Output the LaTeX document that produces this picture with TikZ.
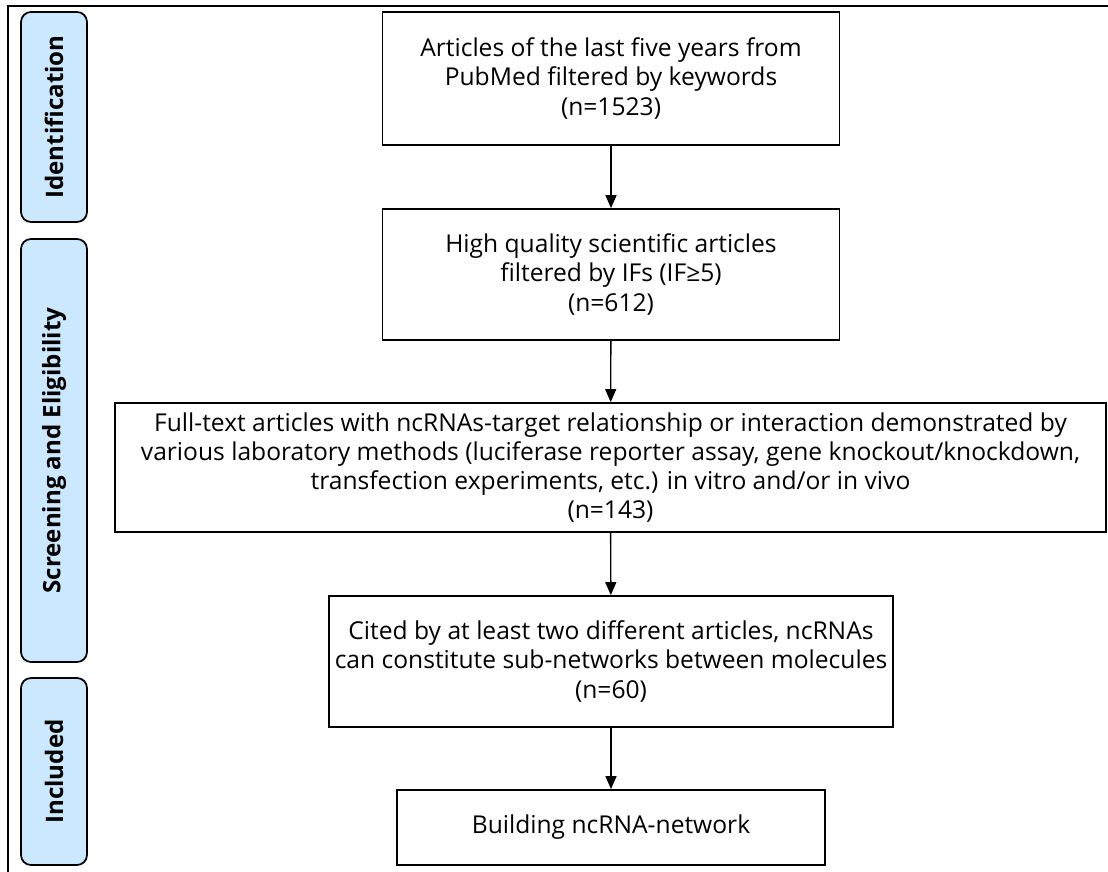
\documentclass[tikz,border=0pt]{standalone}
\usepackage{fontspec}
\setmainfont{Open Sans}
\usetikzlibrary{arrows.meta}
\definecolor{pillblue}{RGB}{204,232,255}

\begin{document}
\begin{tikzpicture}[
  stepbox/.style={rectangle, draw=black, line width=1pt, fill=white, align=center, font=\fontsize{14}{16.6}\selectfont},
  pill/.style={rectangle, rounded corners=0.2cm, draw=black, line width=1pt, fill=pillblue, rotate=90, minimum height=1.32cm, font=\bfseries\fontsize{13.7}{16}\selectfont},
  flow/.style={line width=0.8pt, -{Triangle[length=2.6mm, width=2.2mm]}}]
\useasboundingbox (0,0) rectangle (22.16,-17.44);
% frame
\draw[line width=1.2pt] (0.16,-17.6) -- (0.16,-0.12) -- (22.3,-0.12);
% stages
\node[pill, minimum width=4.2cm] at (1.08,-2.34) (ident) {Identification};
\node[pill, minimum width=8.46cm] at (1.08,-9.01) (screen) {Screening and Eligibility};
\node[pill, minimum width=3.74cm] at (1.08,-15.43) (incl) {Included};
% boxes
\node[stepbox, minimum width=9.14cm, minimum height=2.66cm] at (12.22,-1.57) (pubmed) {Articles of the last five years from\\PubMed filtered by keywords\\(n=1523)};
\node[stepbox, minimum width=9.14cm, minimum height=2.62cm] at (12.22,-5.49) (quality) {High quality scientific articles\\filtered by IFs (IF≥5)\\(n=612)};
\node[stepbox, minimum width=19.82cm, minimum height=2.58cm] at (12.21,-9.35) (fulltext) {Full-text articles with ncRNAs-target relationship or interaction demonstrated by\\various laboratory methods (luciferase reporter assay, gene knockout/knockdown,\\transfection experiments, etc.) in vitro and/or in vivo\\(n=143)};
\node[stepbox, minimum width=11.24cm, minimum height=2.62cm] at (12.22,-13.23) (cited) {Cited by at least two different articles, ncRNAs\\can constitute sub-networks between molecules\\(n=60)};
\node[stepbox, minimum width=8.56cm, minimum height=1.5cm] at (12.22,-16.55) (network) {Building ncRNA-network};
% arrows
\draw[flow] (pubmed) -- (quality);
\draw[flow] (quality) -- (fulltext);
\draw[flow] (fulltext) -- (cited);
\draw[flow] (cited) -- (network);
\end{tikzpicture}
\end{document}
